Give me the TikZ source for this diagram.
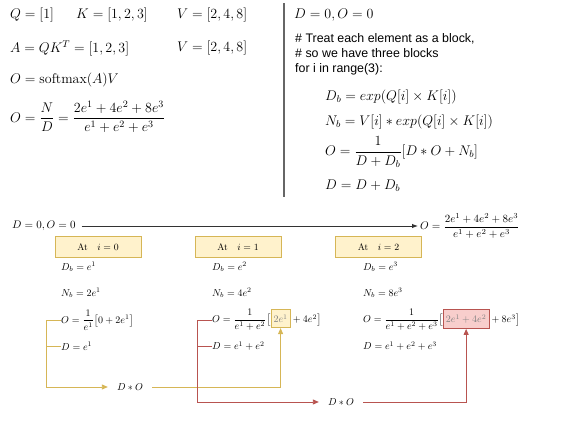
\RequirePackage{fix-cm}
\documentclass[tikz,border=0pt]{standalone}
\usepackage{amsmath}
\usepackage{fontspec}
\newfontfamily\codefont{Liberation Sans}
\usetikzlibrary{arrows.meta,calc}
\definecolor{yelfill}{HTML}{FFF2CC}
\definecolor{yeldraw}{HTML}{D6B656}
\definecolor{redfill}{HTML}{F8CECC}
\definecolor{reddraw}{HTML}{B85450}
\definecolor{darkline}{HTML}{333333}
\begin{document}
\begin{tikzpicture}[x=1pt,y=-1pt,
  big/.style={inner sep=0pt, font=\fontsize{14}{16}\selectfont},
  mid/.style={inner sep=0pt, font=\fontsize{11}{13}\selectfont},
  sm/.style={inner sep=0pt, font=\fontsize{10}{12}\selectfont},
  code/.style={inner sep=0pt, font=\codefont\fontsize{12.4}{15}\selectfont, align=left},
  stepbox/.style={draw=yeldraw, fill=yelfill, line width=0.6pt, minimum width=86pt, minimum height=21pt, inner sep=0pt, font=\fontsize{9.5}{11}\selectfont},
  hlY/.style={draw=yeldraw, fill=yelfill, line width=0.6pt, inner xsep=2.5pt, inner ysep=5pt, text=black!50},
  hlR/.style={draw=reddraw, fill=redfill, line width=0.6pt, inner xsep=2.5pt, inner ysep=5pt, text=black!50},
  dtbox/.style={inner ysep=0pt, inner xsep=9pt, font=\fontsize{10}{12}\selectfont},
  yline/.style={draw=yeldraw, line width=0.9pt},
  rline/.style={draw=reddraw, line width=0.9pt},
  tipY/.style={-{Triangle[length=6pt,width=5pt]}},
  sepline/.style={draw=black!60, line width=1.4pt},
  mainar/.style={draw=darkline, line width=0.9pt, -{Latex[length=6pt,width=4.5pt]}}
]
\useasboundingbox (0,0) rectangle (563,421);

% top left
\node[big, anchor=west] (q) at (10,15) {$Q=[1]$};
\node[big, anchor=west] (k) at (76,15) {$K=[1,2,3]$};
\node[big, anchor=west] (v1) at (177,15) {$V=[2,4,8]$};
\node[big, anchor=west] (a) at (10,48) {$A=QK^T=[1,2,3]$};
\node[big, anchor=west] (v2) at (177,48) {$V=[2,4,8]$};
\node[big, anchor=west] (sm) at (10,80) {$O=\mathrm{softmax}(A)V$};
\node[big, anchor=west] (of) at (10,117) {$O=\dfrac{N}{D}=\dfrac{2e^1+4e^2+8e^3}{e^1+e^2+e^3}$};

% separator
\draw[sepline] (284,3) -- (284,197);

% top right
\node[big, anchor=west] (r0) at (294,15) {$D=0,O=0$};
\node[code, anchor=north west] (cm) at (295,33) {\# Treat each element as a block,\\\# so we have three blocks\\for i in range(3):};
\node[big, anchor=west] (r1) at (325,97) {$D_b=exp(Q[i]\times K[i])$};
\node[big, anchor=west] (r2) at (325,122) {$N_b=V[i]*exp(Q[i]\times K[i])$};
\node[big, anchor=west] (r3) at (325,152) {$O=\dfrac{1}{D+D_b}[D*O+N_b]$};
\node[big, anchor=west] (r4) at (325,186) {$D=D+D_b$};

% bottom: main flow
\node[mid, anchor=west] (init) at (12,226) {$D=0,O=0$};
\node[mid, anchor=west] (fin) at (420,226) {$O=\dfrac{2e^1+4e^2+8e^3}{e^1+e^2+e^3}$};
\draw[mainar, shorten <=6pt, shorten >=2pt] (init.east) -- (init.east -| fin.west);

\node[stepbox] (s0) at (98,247) {At\quad$i=0$};
\node[stepbox] (s1) at (238,247) {At\quad$i=1$};
\node[stepbox] (s2) at (378.5,247) {At\quad$i=2$};

% column 1
\node[sm, anchor=west] (db0) at (61,267) {$D_b=e^1$};
\node[sm, anchor=west] (nb0) at (61,293) {$N_b=2e^1$};
\node[sm, anchor=west] (o0) at (61,320) {$O=\dfrac{1}{e^1}\bigl[0+2e^1\bigr]$};
\node[sm, anchor=west] (d0) at (61,346) {$D=e^1$};
\node[dtbox] (dto0) at (130,387) {$D*O$};

% column 2
\node[sm, anchor=west] (db1) at (212,267) {$D_b=e^2$};
\node[sm, anchor=west] (nb1) at (212,293) {$N_b=4e^2$};
\node[sm, anchor=west] (o1) at (212,320) {$O=\dfrac{1}{e^1+e^2}\bigl[$};
\node[sm, hlY, anchor=base west] (h1) at (o1.base east) {$2e^1$};
\node[sm, anchor=base west] (o1b) at (h1.base east) {${}+4e^2\bigr]$};
\node[sm, anchor=west] (d1) at (212,346) {$D=e^1+e^2$};
\node[dtbox] (dto1) at (341,402) {$D*O$};

% column 3
\node[sm, anchor=west] (db2) at (363,267) {$D_b=e^3$};
\node[sm, anchor=west] (nb2) at (363,293) {$N_b=8e^3$};
\node[sm, anchor=west] (o2) at (363,320) {$O=\dfrac{1}{e^1+e^2+e^3}\bigl[$};
\node[sm, hlR, anchor=base west] (h2) at (o2.base east) {$2e^1+4e^2$};
\node[sm, anchor=base west] (o2b) at (h2.base east) {${}+8e^3\bigr]$};
\node[sm, anchor=west] (d2) at (363,346) {$D=e^1+e^2+e^3$};

% connectors
\coordinate (k0) at (46,0);
\coordinate (k1) at (197,0);
\draw[yline, tipY] (o0.west) -- (o0.west -| k0) |- (dto0.west);
\draw[yline] (d0.west) -- (d0.west -| k0);
\draw[yline, tipY] (dto0.east) -| (h1.south);
\draw[rline, tipY] (o1.west) -- (o1.west -| k1) |- (dto1.west);
\draw[rline] (d1.west) -- (d1.west -| k1);
\draw[rline, tipY] (dto1.east) -| (h2.south);
\end{tikzpicture}
\end{document}
